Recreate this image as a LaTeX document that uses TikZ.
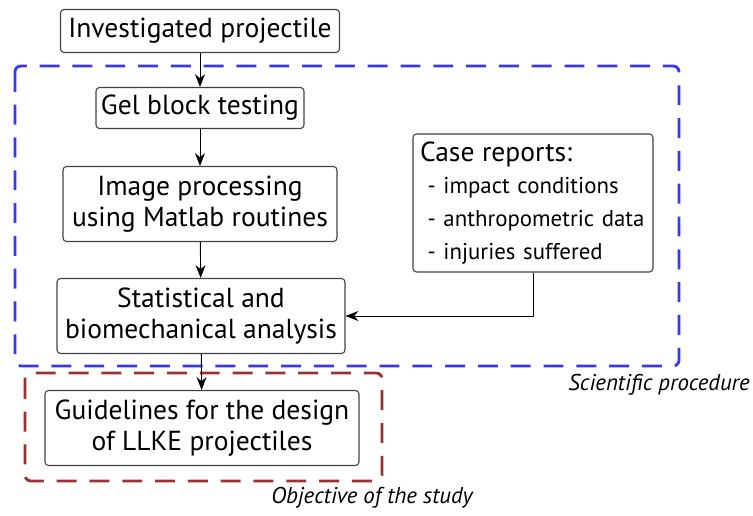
\documentclass[tikz,border=0pt]{standalone}
\usepackage{fontspec}
\setmainfont{PT Sans}
\usetikzlibrary{arrows.meta,positioning}

\definecolor{procblue}{RGB}{55,55,245}
\definecolor{objred}{RGB}{158,48,48}
\newcommand{\pxscl}{0.03}
\newcommand{\pxl}[1]{#1*\pxscl cm}
\newcommand{\pn}{\node[stepbox]}
\newcommand{\bigfont}{\fontsize{23.5}{27}\selectfont}
\newcommand{\smallfont}{\fontsize{19.5}{28}\selectfont}

\tikzset{
  stepbox/.style={draw=black!75, line width=0.9pt, rounded corners=3pt,
    align=center, inner sep=0pt, font=\bigfont},
  flow/.style={-{Stealth[length=11pt,width=8.5pt]}, line width=0.8pt},
  region/.style={line width=2.4pt, rounded corners=5pt, dash pattern=on 17pt off 11pt},
  tag/.style={font=\itshape\fontsize{19.5}{22}\selectfont, inner sep=0pt}
}

\begin{document}
\begin{tikzpicture}[x=\pxscl cm, y=-\pxscl cm]
  \useasboundingbox (0,0) rectangle (753,516);

  % dashed regions
  \draw[region, procblue] (15,66) rectangle (679,366);
  \draw[region, objred] (25,373) rectangle (382,481);
  \node[tag, anchor=north east] (sciTag) at (750,374) {Scientific procedure};
  \node[tag] (objTag) at (372,498) {Objective of the study};

  % steps
  \pn[minimum width={\pxl{279}}, minimum height={\pxl{43}}] (proj) at (200,31) {Investigated projectile};
  \pn[minimum width={\pxl{208}}, minimum height={\pxl{41}}] (gel) at (200,108) {Gel block testing};
  \pn[minimum width={\pxl{274}}, minimum height={\pxl{75}}] (img) at (200,204) {Image processing\\using Matlab routines};
  \pn[minimum width={\pxl{288}}, minimum height={\pxl{75}}] (stat) at (201,316) {Statistical and\\biomechanical analysis};
  \pn[minimum width={\pxl{314}}, minimum height={\pxl{75}}] (guide) at (202,428) {Guidelines for the design\\of LLKE projectiles};
  \pn[align=left, text width={\pxl{226}}, inner xsep={\pxl{7}}, minimum height={\pxl{138}}, font=\smallfont] (cases) at (533,203)
    {{\bigfont Case reports:}\\
     \ - impact conditions\\
     \ - anthropometric data\\
     \ - injuries suffered};

  \draw[flow]
    (proj) -- (gel);
  \draw[flow]
    (gel) -- (img);
  \draw[flow]
    (img) -- (stat);
  \draw[flow]
    (stat) -- (guide);
  \draw[flow]
    (cases.south) |- (stat.east);
\end{tikzpicture}
\end{document}
